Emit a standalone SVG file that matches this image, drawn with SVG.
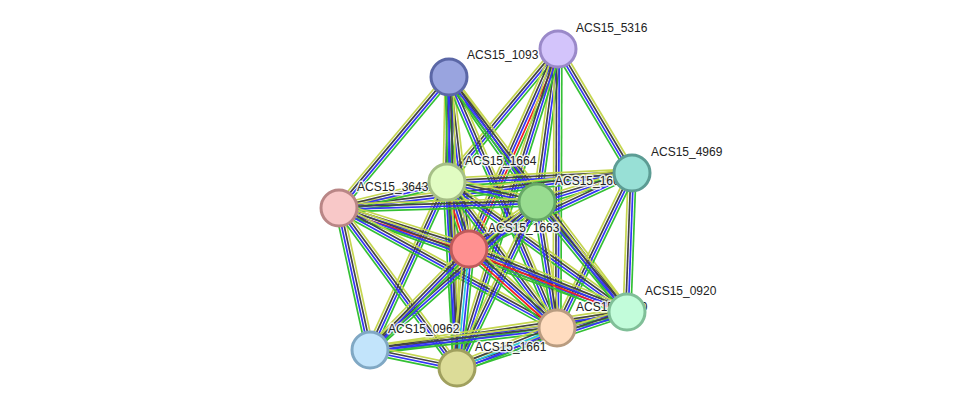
<svg xmlns="http://www.w3.org/2000/svg" width="976" height="414" viewBox="0 0 976 414">
<style>
path{fill:none;stroke-width:1.7}
.y{stroke:#c5d64f}.k{stroke:#444}.b{stroke:#3434f6}.g{stroke:#34c034}.r{stroke:#f42020}.c{stroke:#28c8e0}
circle{stroke-width:3}
text{font-family:"Liberation Sans",Arial,sans-serif;font-size:12px;fill:#222;stroke:#fff;stroke-width:3;stroke-opacity:.85;paint-order:stroke;stroke-linejoin:round}
</style>
<rect width="976" height="414" fill="#fff"/>
<g id="edges">
<!-- A 5316 -->
<g transform="translate(447 182) rotate(-50.15)"><path class="y" d="M0-3.9H173"/><path class="k" d="M0-1.3H173"/><path class="b" d="M0 1.3H173"/><path class="g" d="M0 3.9H173"/></g>
<g transform="translate(469 249) rotate(-66)"><path class="y" d="M0-5.2H219"/><path class="k" d="M0-2.6H219"/><path class="b" d="M0 0H219"/><path class="r" d="M0 2.6H219"/><path class="g" d="M0 5.2H219"/></g>
<g transform="translate(537 202) rotate(-82.2)"><path class="y" d="M0-3.9H154"/><path class="k" d="M0-1.3H154"/><path class="b" d="M0 1.3H154"/><path class="g" d="M0 3.9H154"/></g>
<g transform="translate(557 328) rotate(-89.8)"><path class="y" d="M0-3.9H279"/><path class="k" d="M0-1.3H279"/><path class="b" d="M0 1.3H279"/><path class="g" d="M0 3.9H279"/></g>
<g transform="translate(457 368) rotate(-72.4)"><path class="y" d="M0-3.9H335"/><path class="k" d="M0-1.3H335"/><path class="b" d="M0 1.3H335"/><path class="g" d="M0 3.9H335"/></g>
<g transform="translate(558 49) rotate(59.2)"><path class="y" d="M0-3.9H144"/><path class="k" d="M0-1.3H144"/><path class="b" d="M0 1.3H144"/><path class="g" d="M0 3.9H144"/></g>
<!-- B 1093 -->
<g transform="translate(339 208) rotate(-50)"><path class="y" d="M0-3.9H171"/><path class="k" d="M0-1.3H171"/><path class="b" d="M0 1.3H171"/><path class="g" d="M0 3.9H171"/></g>
<g transform="translate(447 182) rotate(-88.9)"><path class="y" d="M0-3.9H105"/><path class="k" d="M0-1.3H105"/><path class="b" d="M0 1.3H105"/><path class="g" d="M0 3.9H105"/></g>
<g transform="translate(449 77) rotate(83.4)"><path class="y" d="M0-3.9H173"/><path class="k" d="M0-1.3H173"/><path class="b" d="M0 1.3H173"/><path class="g" d="M0 3.9H173"/></g>
<g transform="translate(449 77) rotate(54.85)"><path class="y" d="M0-3.9H153"/><path class="k" d="M0-1.3H153"/><path class="b" d="M0 1.3H153"/><path class="g" d="M0 3.9H153"/></g>
<g transform="translate(449 77) rotate(66.7)"><path class="y" d="M0-3.9H273"/><path class="k" d="M0-1.3H273"/><path class="b" d="M0 1.3H273"/><path class="g" d="M0 3.9H273"/></g>
<g transform="translate(449 77) rotate(52.85)"><path class="y" d="M0-3.9H295"/><path class="k" d="M0-1.3H295"/><path class="b" d="M0 1.3H295"/><path class="g" d="M0 3.9H295"/></g>
<g transform="translate(449 77) rotate(88.4)"><path class="y" d="M0-3.9H291"/><path class="k" d="M0-1.3H291"/><path class="b" d="M0 1.3H291"/><path class="g" d="M0 3.9H291"/></g>
<!-- C 4969 -->
<g transform="translate(447 182) rotate(-2.8)"><path class="y" d="M0-3.9H185"/><path class="k" d="M0-1.3H185"/><path class="b" d="M0 1.3H185"/><path class="g" d="M0 3.9H185"/></g>
<g transform="translate(339 208) rotate(-6.8)"><path class="y" d="M0-3.9H295"/><path class="k" d="M0-1.3H295"/><path class="b" d="M0 1.3H295"/><path class="g" d="M0 3.9H295"/></g>
<g transform="translate(537 202) rotate(-17)"><path class="y" d="M0-3.9H99"/><path class="k" d="M0-1.3H99"/><path class="b" d="M0 1.3H99"/><path class="g" d="M0 3.9H99"/></g>
<g transform="translate(469 249) rotate(-25)"><path class="y" d="M0-3.9H180"/><path class="k" d="M0-1.3H180"/><path class="b" d="M0 1.3H180"/><path class="g" d="M0 3.9H180"/></g>
<g transform="translate(627 312) rotate(-87.9)"><path class="y" d="M0-3.9H139"/><path class="k" d="M0-1.3H139"/><path class="b" d="M0 1.3H139"/><path class="g" d="M0 3.9H139"/></g>
<g transform="translate(557 328) rotate(-64.2)"><path class="y" d="M0-3.9H172"/><path class="k" d="M0-1.3H172"/><path class="b" d="M0 1.3H172"/><path class="g" d="M0 3.9H172"/></g>
<!-- D 1664 -->
<g transform="translate(339 208) rotate(-13.5)"><path class="y" d="M0-3.9H111"/><path class="k" d="M0-1.3H111"/><path class="b" d="M0 1.3H111"/><path class="g" d="M0 3.9H111"/></g>
<g transform="translate(447 182) rotate(12.5)"><path class="y" d="M0-3.9H92"/><path class="k" d="M0-1.3H92"/><path class="b" d="M0 1.3H92"/><path class="g" d="M0 3.9H92"/></g>
<g transform="translate(447 182) rotate(71.8)"><path class="y" d="M0-5.2H71"/><path class="k" d="M0-2.6H71"/><path class="b" d="M0 0H71"/><path class="r" d="M0 2.6H71"/><path class="g" d="M0 5.2H71"/></g>
<g transform="translate(447 182) rotate(35.8)"><path class="y" d="M0-3.9H222"/><path class="k" d="M0-1.3H222"/><path class="b" d="M0 1.3H222"/><path class="g" d="M0 3.9H222"/></g>
<g transform="translate(447 182) rotate(53)"><path class="y" d="M0-3.9H183"/><path class="k" d="M0-1.3H183"/><path class="b" d="M0 1.3H183"/><path class="g" d="M0 3.9H183"/></g>
<g transform="translate(370 350) rotate(-65.4)"><path class="y" d="M0-3.9H185"/><path class="k" d="M0-1.3H185"/><path class="b" d="M0 1.3H185"/><path class="g" d="M0 3.9H185"/></g>
<g transform="translate(447 182) rotate(86.9)"><path class="y" d="M0-3.9H186"/><path class="k" d="M0-1.3H186"/><path class="b" d="M0 1.3H186"/><path class="g" d="M0 3.9H186"/></g>
<!-- E 3643 -->
<g transform="translate(339 208) rotate(-1.7)"><path class="y" d="M0-3.9H198"/><path class="k" d="M0-1.3H198"/><path class="b" d="M0 1.3H198"/><path class="g" d="M0 3.9H198"/></g>
<g transform="translate(339 208) rotate(17.5)"><path class="y" d="M0-5.2H136"/><path class="k" d="M0-2.6H136"/><path class="b" d="M0 0H136"/><path class="r" d="M0 2.6H136"/><path class="g" d="M0 5.2H136"/></g>
<g transform="translate(339 208) rotate(19.85)"><path class="y" d="M0-3.9H306"/><path class="k" d="M0-1.3H306"/><path class="b" d="M0 1.3H306"/><path class="g" d="M0 3.9H306"/></g>
<g transform="translate(339 208) rotate(28.8)"><path class="y" d="M0-3.9H249"/><path class="k" d="M0-1.3H249"/><path class="b" d="M0 1.3H249"/><path class="g" d="M0 3.9H249"/></g>
<g transform="translate(339 208) rotate(77.7)"><path class="y" d="M0-3.9H145"/><path class="k" d="M0-1.3H145"/><path class="b" d="M0 1.3H145"/><path class="g" d="M0 3.9H145"/></g>
<g transform="translate(339 208) rotate(53.6)"><path class="y" d="M0-3.9H199"/><path class="k" d="M0-1.3H199"/><path class="b" d="M0 1.3H199"/><path class="g" d="M0 3.9H199"/></g>
<!-- F 1662 -->
<g transform="translate(469 249) rotate(-34.65)"><path class="y" d="M0-3.9H83"/><path class="k" d="M0-1.3H83"/><path class="b" d="M0 1.3H83"/><path class="g" d="M0 3.9H83"/></g>
<g transform="translate(537 202) rotate(50.7)"><path class="y" d="M0-3.9H142"/><path class="k" d="M0-1.3H142"/><path class="b" d="M0 1.3H142"/><path class="g" d="M0 3.9H142"/></g>
<g transform="translate(537 202) rotate(81)"><path class="y" d="M0-3.9H128"/><path class="k" d="M0-1.3H128"/><path class="b" d="M0 1.3H128"/><path class="g" d="M0 3.9H128"/></g>
<g transform="translate(370 350) rotate(-41.55)"><path class="y" d="M0-3.9H223"/><path class="k" d="M0-1.3H223"/><path class="b" d="M0 1.3H223"/><path class="g" d="M0 3.9H223"/></g>
<g transform="translate(457 368) rotate(-64.3)"><path class="y" d="M0-3.9H184"/><path class="k" d="M0-1.3H184"/><path class="b" d="M0 1.3H184"/><path class="g" d="M0 3.9H184"/></g>
<!-- G 1663 -->
<g transform="translate(469 249) rotate(21.7)"><path class="y" d="M0-5.2H170"/><path class="k" d="M0-2.6H170"/><path class="b" d="M0 0H170"/><path class="r" d="M0 2.6H170"/><path class="g" d="M0 5.2H170"/></g>
<g transform="translate(469 249) rotate(41.9)"><path class="y" d="M0-5.2H118"/><path class="k" d="M0-2.6H118"/><path class="b" d="M0 0H118"/><path class="r" d="M0 2.6H118"/><path class="g" d="M0 5.2H118"/></g>
<g transform="translate(370 350) rotate(-45.6)"><path class="y" d="M0-3.9H141"/><path class="k" d="M0-1.3H141"/><path class="b" d="M0 1.3H141"/><path class="g" d="M0 3.9H141"/></g>
<g transform="translate(457 368) rotate(-84.2)"><path class="y" d="M0-5.2H120"/><path class="k" d="M0-2.6H120"/><path class="c" d="M0 0H120"/><path class="b" d="M0 2.6H120"/><path class="g" d="M0 5.2H120"/></g>
<!-- H 0920 -->
<g transform="translate(557 328) rotate(-12.9)"><path class="y" d="M0-3.9H72"/><path class="k" d="M0-1.3H72"/><path class="b" d="M0 1.3H72"/><path class="g" d="M0 3.9H72"/></g>
<g transform="translate(370 350) rotate(-8.4)"><path class="y" d="M0-3.9H260"/><path class="k" d="M0-1.3H260"/><path class="b" d="M0 1.3H260"/><path class="g" d="M0 3.9H260"/></g>
<g transform="translate(457 368) rotate(-18.2)"><path class="y" d="M0-3.9H179"/><path class="k" d="M0-1.3H179"/><path class="b" d="M0 1.3H179"/><path class="g" d="M0 3.9H179"/></g>
<!-- I / J -->
<g transform="translate(370 350) rotate(-6.7)"><path class="y" d="M0-3.9H188"/><path class="k" d="M0-1.3H188"/><path class="b" d="M0 1.3H188"/><path class="g" d="M0 3.9H188"/></g>
<g transform="translate(457 368) rotate(-21.8)"><path class="y" d="M0-5.2H108"/><path class="k" d="M0-2.6H108"/><path class="c" d="M0 0H108"/><path class="b" d="M0 2.6H108"/><path class="g" d="M0 5.2H108"/></g>
<g transform="translate(370 350) rotate(11.7)"><path class="y" d="M0-3.9H89"/><path class="k" d="M0-1.3H89"/><path class="b" d="M0 1.3H89"/><path class="g" d="M0 3.9H89"/></g>
</g>
<g id="n5316"><circle cx="558" cy="49" r="18" fill="#d3c4fb" stroke="#9a89c9"/><text x="576" y="32">ACS15_5316</text></g>
<g id="n1093"><circle cx="449" cy="77" r="18" fill="#99a4df" stroke="#5b67a6"/><text x="467" y="59">ACS15_1093</text></g>
<g id="n3643"><circle cx="339" cy="208" r="18" fill="#f8c8c8" stroke="#b98686"/><text x="357" y="191">ACS15_3643</text></g>
<g id="n1664"><circle cx="447" cy="182" r="18" fill="#e1fcc2" stroke="#a6bf86"/><text x="465" y="165">ACS15_1664</text></g>
<g id="n1662"><circle cx="537" cy="202" r="18" fill="#98dc90" stroke="#66a866"/><text x="555" y="185">ACS15_1662</text></g>
<g id="n4969"><circle cx="632" cy="173" r="18" fill="#98e0d6" stroke="#5c9c94"/><text x="651" y="156">ACS15_4969</text></g>
<g id="n1663"><circle cx="469" cy="249" r="18" fill="#ff9090" stroke="#c05a5a"/><text x="488" y="232">ACS15_1663</text></g>
<g id="n1660"><circle cx="557" cy="328" r="18" fill="#ffdcbf" stroke="#b99c80"/><text x="576" y="311">ACS15_1660</text></g>
<g id="n0920"><circle cx="627" cy="312" r="18" fill="#c2fcda" stroke="#80bf98"/><text x="645" y="295">ACS15_0920</text></g>
<g id="n0962"><circle cx="370" cy="350" r="18" fill="#c2e4fb" stroke="#80a8c4"/><text x="388" y="333">ACS15_0962</text></g>
<g id="n1661"><circle cx="457" cy="368" r="18" fill="#dcdc98" stroke="#a0a05e"/><text x="475" y="351">ACS15_1661</text></g>
</svg>
